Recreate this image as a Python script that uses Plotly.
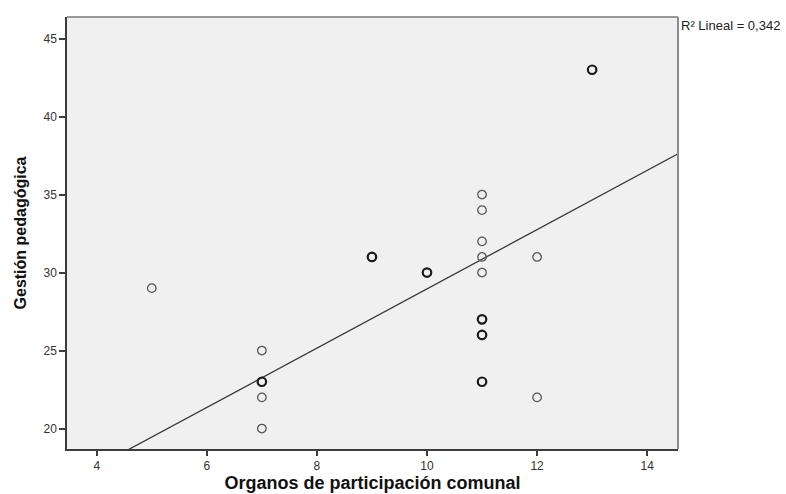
import numpy as np
import plotly.graph_objects as go

# Observed (x, y) pairs and how many cases share each pair
organos = [5, 7, 7, 7, 7, 9, 10, 11, 11, 11, 11, 11, 11, 11, 11, 12, 12, 13]
gestion = [29, 25, 23, 22, 20, 31, 30, 35, 34, 32, 31, 30, 27, 26, 23, 31, 22, 43]
casos = [1, 1, 2, 1, 1, 3, 3, 1, 1, 1, 1, 1, 6, 4, 2, 1, 1, 5]

x_ticks = [4, 6, 8, 10, 12, 14]
y_ticks = [20, 25, 30, 35, 40, 45]
x_range = [3.46, 14.56]
y_range = [18.69, 46.38]

# Linear fit over all cases
xs = np.repeat(organos, casos).astype(float)
ys = np.repeat(gestion, casos).astype(float)
slope, intercept = np.polyfit(xs, ys, 1)
r2 = np.corrcoef(xs, ys)[0, 1] ** 2
fit_x = np.array(x_range)
fit_y = intercept + slope * fit_x

font = "Arial, Liberation Sans, sans-serif"

fig = go.Figure()
fig.add_trace(go.Scatter(
    x=fit_x, y=fit_y, mode="lines",
    line=dict(color="#3a3a3a", width=1.3),
    hoverinfo="skip",
))
fig.add_trace(go.Scatter(
    x=organos, y=gestion, mode="markers",
    marker=dict(
        symbol="circle-open",
        size=8.5,
        color=["#1a1a1a" if c > 1 else "#555555" for c in casos],
        line=dict(width=[2.2 if c > 1 else 1.3 for c in casos]),
    ),
    cliponaxis=False,
))

# Frame: dark left/bottom axes, lighter top/right edges
fig.add_shape(type="line", xref="paper", yref="paper", x0=0, x1=1, y0=1, y1=1,
              line=dict(color="#7a7a7a", width=1.5))
fig.add_shape(type="line", xref="paper", yref="paper", x0=1, x1=1, y0=0, y1=1,
              line=dict(color="#8a8a8a", width=2))

fig.add_annotation(
    text=f"R² Lineal = {r2:.3f}".replace(".", ","),
    xref="paper", yref="paper", x=1.002, y=0.981, xanchor="left", yanchor="middle",
    showarrow=False, font=dict(family=font, size=13, color="#222"),
)

fig.update_layout(
    width=786, height=494,
    margin=dict(l=67, r=108, t=17, b=45),
    plot_bgcolor="#f0f0f0", paper_bgcolor="white",
    showlegend=False,
    font=dict(family=font, size=12, color="#333"),
)
fig.update_xaxes(
    range=x_range, tickvals=x_ticks, showgrid=False, zeroline=False,
    showline=True, linecolor="#3c3c3c", linewidth=1.5, automargin=False,
    ticks="outside", ticklen=5, tickwidth=1.5, tickcolor="#3c3c3c",
    tickfont=dict(family=font, size=12, color="#333"),
    title=dict(text="<b>Organos de participación comunal</b>", standoff=4,
               font=dict(family=font, size=18, color="#111")),
)
fig.update_yaxes(
    range=y_range, tickvals=y_ticks, showgrid=False, zeroline=False,
    showline=True, linecolor="#3c3c3c", linewidth=1.5, automargin=False,
    ticks="outside", ticklen=6, tickwidth=1.5, tickcolor="#3c3c3c",
    tickfont=dict(family=font, size=12, color="#333"),
    title=dict(text="<b>Gestión pedagógica</b>", standoff=13,
               font=dict(family=font, size=16, color="#111")),
)
fig.write_html("out.html")
